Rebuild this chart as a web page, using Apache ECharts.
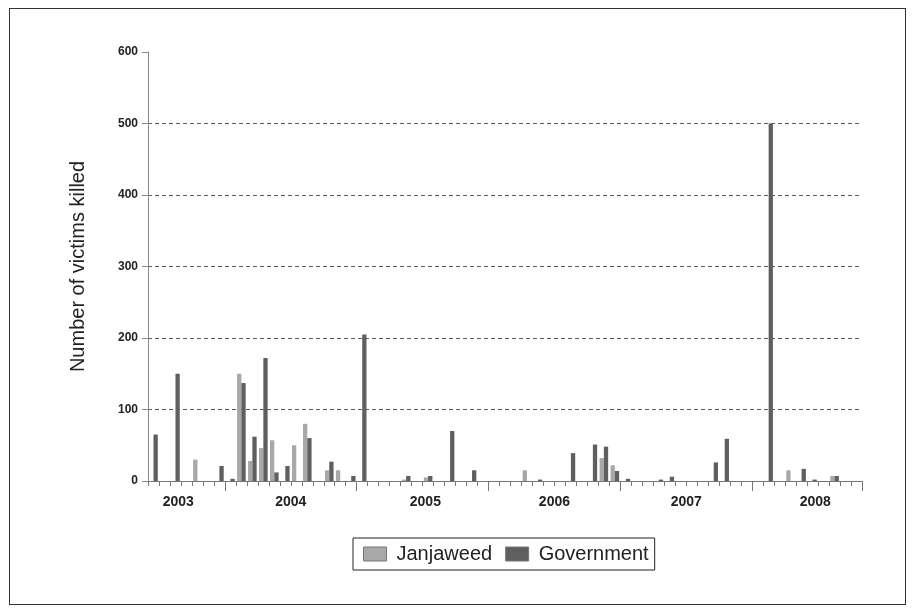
<!DOCTYPE html>
<html>
<head>
<meta charset="utf-8">
<script src="https://cdn.jsdelivr.net/npm/echarts@6/dist/echarts.min.js"></script>
<style>
html,body{margin:0;padding:0;background:#fff;}
#frame{position:absolute;left:9px;top:8px;width:895px;height:595px;border:1px solid #333;}
#chart{position:absolute;left:0;top:0;width:912px;height:613px;}
</style>
</head>
<body>
<div id="frame"></div>
<div id="chart"></div>
<script>
// Monthly categories, Jun 2003 - Oct 2008
const months = [
  '2003-06','2003-07','2003-08','2003-09','2003-10','2003-11','2003-12',
  '2004-01','2004-02','2004-03','2004-04','2004-05','2004-06','2004-07','2004-08','2004-09','2004-10','2004-11','2004-12',
  '2005-01','2005-02','2005-03','2005-04','2005-05','2005-06','2005-07','2005-08','2005-09','2005-10','2005-11','2005-12',
  '2006-01','2006-02','2006-03','2006-04','2006-05','2006-06','2006-07','2006-08','2006-09','2006-10','2006-11','2006-12',
  '2007-01','2007-02','2007-03','2007-04','2007-05','2007-06','2007-07','2007-08','2007-09','2007-10','2007-11','2007-12',
  '2008-01','2008-02','2008-03','2008-04','2008-05','2008-06','2008-07','2008-08','2008-09','2008-10'
];
const janjaweed = [
  0,0,0,0,30,0,0,
  0,150,28,46,57,0,50,80,0,15,15,0,
  0,0,0,0,2,0,5,0,0,0,0,0,
  0,0,0,15,0,0,0,0,0,0,32,22,
  0,0,0,0,0,0,0,0,0,0,0,0,
  0,0,0,15,0,0,0,7,0,0
];
const government = [
  65,0,150,0,0,0,21,
  3,137,62,172,12,21,0,60,0,27,0,7,
  205,0,0,0,7,0,7,0,70,0,15,0,
  0,0,0,0,2,0,0,39,0,51,48,14,
  3,0,0,2,6,0,0,0,26,59,0,0,
  0,500,0,0,17,2,0,7,0,0
];
const yearStartIdx = [7, 19, 31, 43, 55];
const yearLabels = ['2003','2004','2005','2006','2007','2008'];
const yearLabelPos = [2.75, 13, 25.25, 37, 49, 60.75];

const chart = echarts.init(document.getElementById('chart'));
const labelMap = {};
yearLabelPos.forEach((p, i) => { labelMap[p.toFixed(2)] = yearLabels[i]; });

chart.setOption({
  animation: false,
  backgroundColor: 'transparent',
  grid: { left: 148, right: 50, top: 52, bottom: 132, containLabel: false },
  legend: {
    data: ['Janjaweed', 'Government'],
    left: 353, top: 538,
    orient: 'horizontal',
    borderColor: '#222', borderWidth: 1,
    padding: [6, 6, 6, 10],
    itemWidth: 23, itemHeight: 14, itemGap: 13,
    icon: 'rect',
    itemStyle: { borderColor: '#777', borderWidth: 1 },
    textStyle: { fontFamily: 'Liberation Sans, Arial', fontSize: 20, color: '#222', padding: [0, 0, 0, 5] }
  },
  xAxis: [
    {
      type: 'category', data: months, position: 'bottom',
      boundaryGap: true,
      axisLine: { show: true, lineStyle: { color: '#777', width: 1 } },
      axisTick: { show: true, interval: 0, length: 5, lineStyle: { color: '#777' } },
      axisLabel: { show: false },
      splitLine: { show: false }
    },
    {
      type: 'category', data: months, position: 'bottom',
      boundaryGap: true,
      axisLine: { show: false },
      axisTick: { show: true, length: 10, interval: (idx) => yearStartIdx.indexOf(idx) >= 0, lineStyle: { color: '#777' } },
      axisLabel: { show: false },
      splitLine: { show: false }
    },
    {
      type: 'value', min: 0, max: months.length, interval: 0.25, position: 'bottom',
      axisLine: { show: false }, axisTick: { show: false }, splitLine: { show: false },
      axisLabel: {
        show: true, margin: 14, hideOverlap: false,
        showMinLabel: true, showMaxLabel: true,
        fontFamily: 'Liberation Sans, Arial', fontWeight: 'bold', fontSize: 14, color: '#222',
        formatter: (v) => labelMap[Number(v).toFixed(2)] || ''
      }
    }
  ],
  yAxis: {
    type: 'value', min: 0, max: 600, interval: 100,
    name: 'Number of victims killed',
    nameLocation: 'middle', nameGap: 60,
    nameTextStyle: { fontFamily: 'Liberation Sans, Arial', fontSize: 20, color: '#222' },
    axisLine: { show: true, lineStyle: { color: '#888' } },
    axisTick: { show: true, length: 6, inside: false, lineStyle: { color: '#888' } },
    axisLabel: { fontFamily: 'Liberation Sans, Arial', fontWeight: 'bold', fontSize: 12, color: '#222', margin: 10 },
    splitLine: { show: true, showMaxLine: false, showMinLine: false, lineStyle: { color: '#5a5a5a', type: [4, 3], width: 1 } }
  },
  series: [
    {
      name: 'Janjaweed', type: 'bar', xAxisIndex: 0, data: janjaweed,
      barWidth: 4.3, barGap: '0%',
      itemStyle: { color: '#a8a8a8', borderWidth: 0 }
    },
    {
      name: 'Government', type: 'bar', xAxisIndex: 0, data: government,
      barWidth: 4.3, barGap: '0%',
      itemStyle: { color: '#5f5f5f', borderWidth: 0 }
    }
  ]
});
</script>
</body>
</html>
